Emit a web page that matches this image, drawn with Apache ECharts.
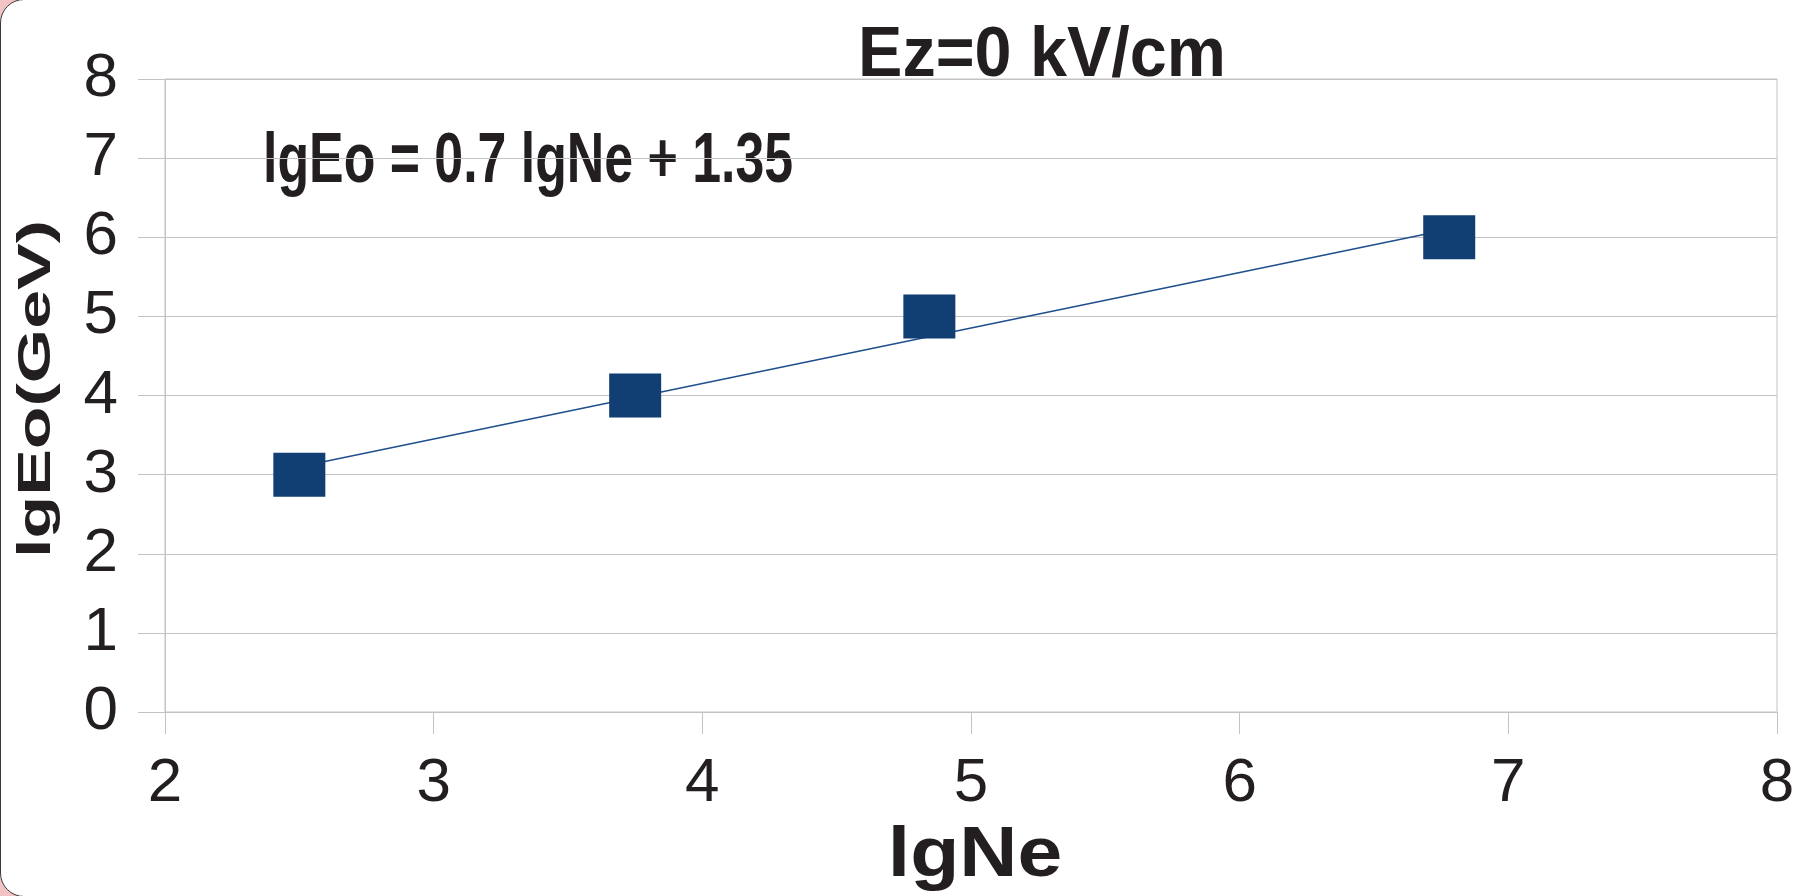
<!DOCTYPE html>
<html>
<head>
<meta charset="utf-8">
<script src="https://cdn.jsdelivr.net/npm/echarts@6.0.0/dist/echarts.min.js"></script>
<style>
  html, body { margin: 0; padding: 0; background: #f3c4c6; overflow: hidden; }
  #frame {
    position: absolute; left: 0; top: -1px; width: 1840px; height: 896px;
    background: #fff; border: 1px solid #3a3a3a; border-radius: 24px;
  }
  #main { position: absolute; left: 0; top: 0; width: 1806px; height: 896px; }
</style>
</head>
<body>
<div id="frame"></div>
<div id="main"></div>
<script>
// 测量点 (lgNe, lgEo)
var lgNe = [2.5, 3.75, 4.845, 6.78];
var lgEo = [3, 4, 5, 6];
// 拟合直线两端
var fitX = [2.5, 6.78];
var fitY = [3.1, 6.1];

var textColor = '#231f20';
var gridColor = '#c3c3c3';

var chart = echarts.init(document.getElementById('main'));
chart.setOption({
  backgroundColor: 'transparent',
  animation: false,
  grid: {
    left: 165, right: 29, top: 79, bottom: 184,
    show: true, borderColor: gridColor, borderWidth: 1
  },
  xAxis: {
    type: 'value', min: 2, max: 8, interval: 1,
    axisLine: { lineStyle: { color: gridColor, width: 1 } },
    axisTick: { show: true, length: 22, lineStyle: { color: gridColor } },
    splitLine: { show: false },
    axisLabel: { color: textColor, fontSize: 62, fontFamily: 'Liberation Sans', margin: 41 }
  },
  yAxis: {
    type: 'value', min: 0, max: 8, interval: 1,
    axisLine: { show: true, lineStyle: { color: gridColor, width: 1 } },
    axisTick: { show: true, length: 27, lineStyle: { color: gridColor } },
    splitLine: { show: true, lineStyle: { color: gridColor, width: 1 } },
    axisLabel: { color: textColor, fontSize: 62, fontFamily: 'Liberation Sans', margin: 47 }
  },
  graphic: [
    { type: 'text', x: 1042, y: 57, scaleX: 0.95,
      style: { text: 'Ez=0 kV/cm', fontSize: 70, fontWeight: 'bold', fontFamily: 'Liberation Sans',
        fill: textColor, align: 'center', verticalAlign: 'middle', textAlign: 'center', textVerticalAlign: 'middle' } },
    // 公式文字较窄
    { type: 'text', x: 263, y: 162, scaleX: 0.73,
      style: { text: 'lgEo = 0.7 lgNe + 1.35', fontSize: 71, fontWeight: 'bold', fontFamily: 'Liberation Sans',
        fill: textColor, align: 'left', verticalAlign: 'middle', textAlign: 'left', textVerticalAlign: 'middle' } },
    { type: 'text', x: 975, y: 857, scaleX: 1.15,
      style: { text: 'lgNe', fontSize: 70, fontWeight: 'bold', fontFamily: 'Liberation Sans',
        fill: textColor, align: 'center', verticalAlign: 'middle', textAlign: 'center', textVerticalAlign: 'middle' } },
    { type: 'text', x: 37, y: 389, rotation: Math.PI / 2, scaleX: 1.52,
      style: { text: 'lgEo(GeV)', fontSize: 46, fontWeight: 'bold', fontFamily: 'Liberation Sans',
        fill: textColor, align: 'center', verticalAlign: 'middle', textAlign: 'center', textVerticalAlign: 'middle' } }
  ],
  series: [
    {
      name: 'fit',
      type: 'line',
      data: fitX.map(function (x, i) { return [x, fitY[i]]; }),
      showSymbol: false,
      lineStyle: { color: '#1f4f8c', width: 1.6 },
      z: 2
    },
    {
      name: 'data',
      type: 'scatter',
      data: lgNe.map(function (x, i) { return [x, lgEo[i]]; }),
      symbol: 'rect',
      symbolSize: [52, 44],
      itemStyle: { color: '#123f73', opacity: 1 },
      z: 3
    }
  ]
});
</script>
</body>
</html>
